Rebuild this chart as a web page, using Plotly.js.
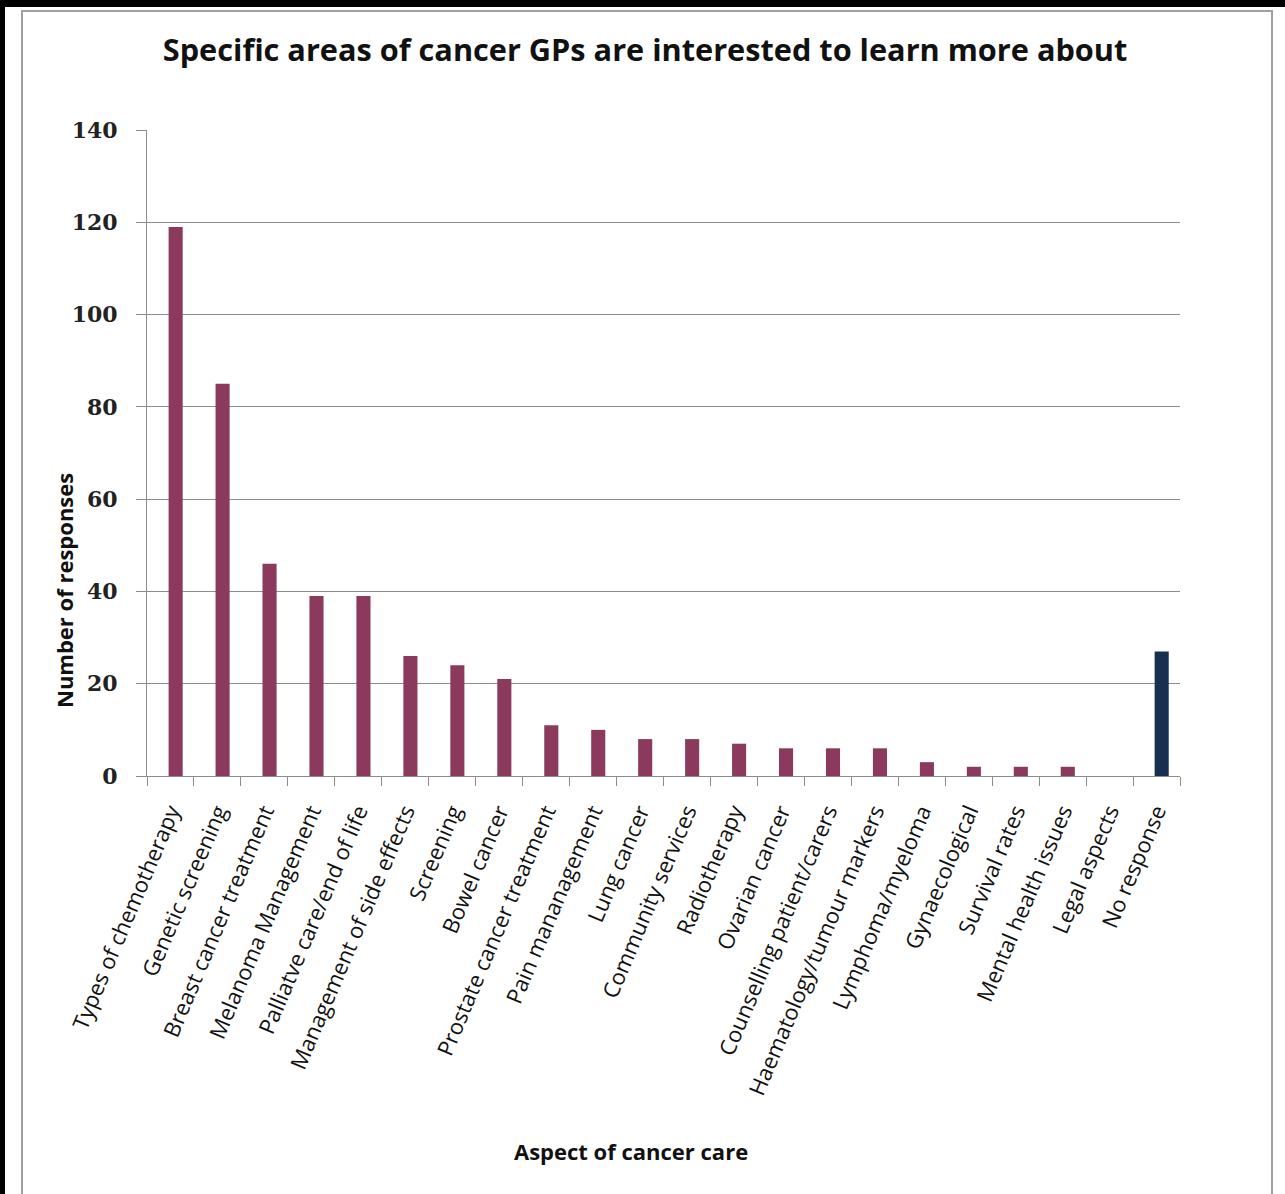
<!DOCTYPE html>
<html>
<head>
<meta charset="utf-8">
<script src="https://cdn.plot.ly/plotly-3.0.1.min.js"></script>
<style>
  html, body { margin: 0; padding: 0; background: #fff; }
  #page { position: absolute; left: 0; top: 0; width: 1285px; height: 1194px; overflow: hidden; background: #fff; }
  #bandTop { position: absolute; left: 0; top: 0; width: 1285px; height: 7px; background: #000; }
  #bandLeft { position: absolute; left: 0; top: 0; width: 5px; height: 1194px; background: #000; }
  #box { position: absolute; left: 21px; top: 10px; width: 1252px; height: 1200px; border: 2px solid #a0a0a0; box-sizing: border-box; }
  #chart { position: absolute; left: 0; top: 0; width: 1285px; height: 1194px; }
</style>
</head>
<body>
<div id="page">
  <div id="bandTop"></div>
  <div id="bandLeft"></div>
  <div id="box"></div>
  <div id="chart"></div>
</div>
<script>
// Survey answers: areas of cancer care GPs want to learn more about
const categories = [
  "Types of chemotherapy",
  "Genetic screening",
  "Breast cancer treatment",
  "Melanoma Management",
  "Palliatve care/end of life",
  "Management of side effects",
  "Screening",
  "Bowel cancer",
  "Prostate cancer treatment",
  "Pain mananagement",
  "Lung cancer",
  "Community services",
  "Radiotherapy",
  "Ovarian cancer",
  "Counselling patient/carers",
  "Haematology/tumour markers",
  "Lymphoma/myeloma",
  "Gynaecological",
  "Survival rates",
  "Mental health issues",
  "Legal aspects",
  "No response"
];
const responses = [119, 85, 46, 39, 39, 26, 24, 21, 11, 10, 8, 8, 7, 6, 6, 6, 3, 2, 2, 2, 0, 27];
const yTicks = [0, 20, 40, 60, 80, 100, 120, 140];

const topicColor = "#8b3a5e";
const noResponseColor = "#17304f";
const barColors = categories.map(c => c === "No response" ? noResponseColor : topicColor);

const gridGrey = "#8c8c8c";
const sans = "Open Sans, Liberation Sans, sans-serif";

const trace = {
  type: "bar",
  x: categories,
  y: responses,
  width: 0.3,
  offset: -0.04,
  marker: { color: barColors, line: { width: 0 } },
  hoverinfo: "x+y"
};

const layout = {
  width: 1285,
  height: 1194,
  paper_bgcolor: "rgba(0,0,0,0)",
  plot_bgcolor: "rgba(0,0,0,0)",
  margin: { l: 147, r: 105, t: 130, b: 418, pad: 0 },
  showlegend: false,
  title: {
    text: "Specific areas of cancer GPs are interested to learn more about",
    font: { family: sans, size: 30.7, weight: "bold", color: "#111" },
    x: 0.502, xanchor: "center",
    y: 1 - 50 / 1194, yanchor: "middle"
  },
  xaxis: {
    type: "category",
    tickson: "boundaries",
    ticks: "outside",
    ticklen: 9,
    tickwidth: 1,
    tickcolor: gridGrey,
    showline: true,
    linecolor: gridGrey,
    linewidth: 1,
    showgrid: false,
    tickangle: -67,
    ticklabelstandoff: 13,
    tickfont: { family: sans, size: 22, color: "#111" }
  },
  yaxis: {
    range: [0, 140],
    tickvals: yTicks,
    ticktext: yTicks.map(String),
    ticks: "outside",
    ticklen: 10,
    tickwidth: 1,
    tickcolor: gridGrey,
    ticklabelstandoff: 14,
    showline: true,
    linecolor: gridGrey,
    linewidth: 1,
    showgrid: true,
    gridcolor: gridGrey,
    gridwidth: 1,
    zeroline: false,
    tickfont: { family: "DejaVu Serif, Liberation Serif, serif", size: 22, weight: "bold", color: "#222" }
  },
  annotations: [
    {
      text: "Number of responses",
      xref: "paper", yref: "paper",
      x: (64 - 147) / 1033, y: (776 - 591) / 646,
      xanchor: "center", yanchor: "middle",
      textangle: -90, showarrow: false,
      font: { family: sans, size: 22, weight: "bold", color: "#111" }
    },
    {
      text: "Aspect of cancer care",
      xref: "paper", yref: "paper",
      x: (631 - 147) / 1033, y: (776 - 1151) / 646,
      xanchor: "center", yanchor: "middle",
      showarrow: false,
      font: { family: sans, size: 22, weight: "bold", color: "#111" }
    }
  ]
};

Plotly.newPlot("chart", [trace], layout, { displayModeBar: false, staticPlot: true });
</script>
</body>
</html>
